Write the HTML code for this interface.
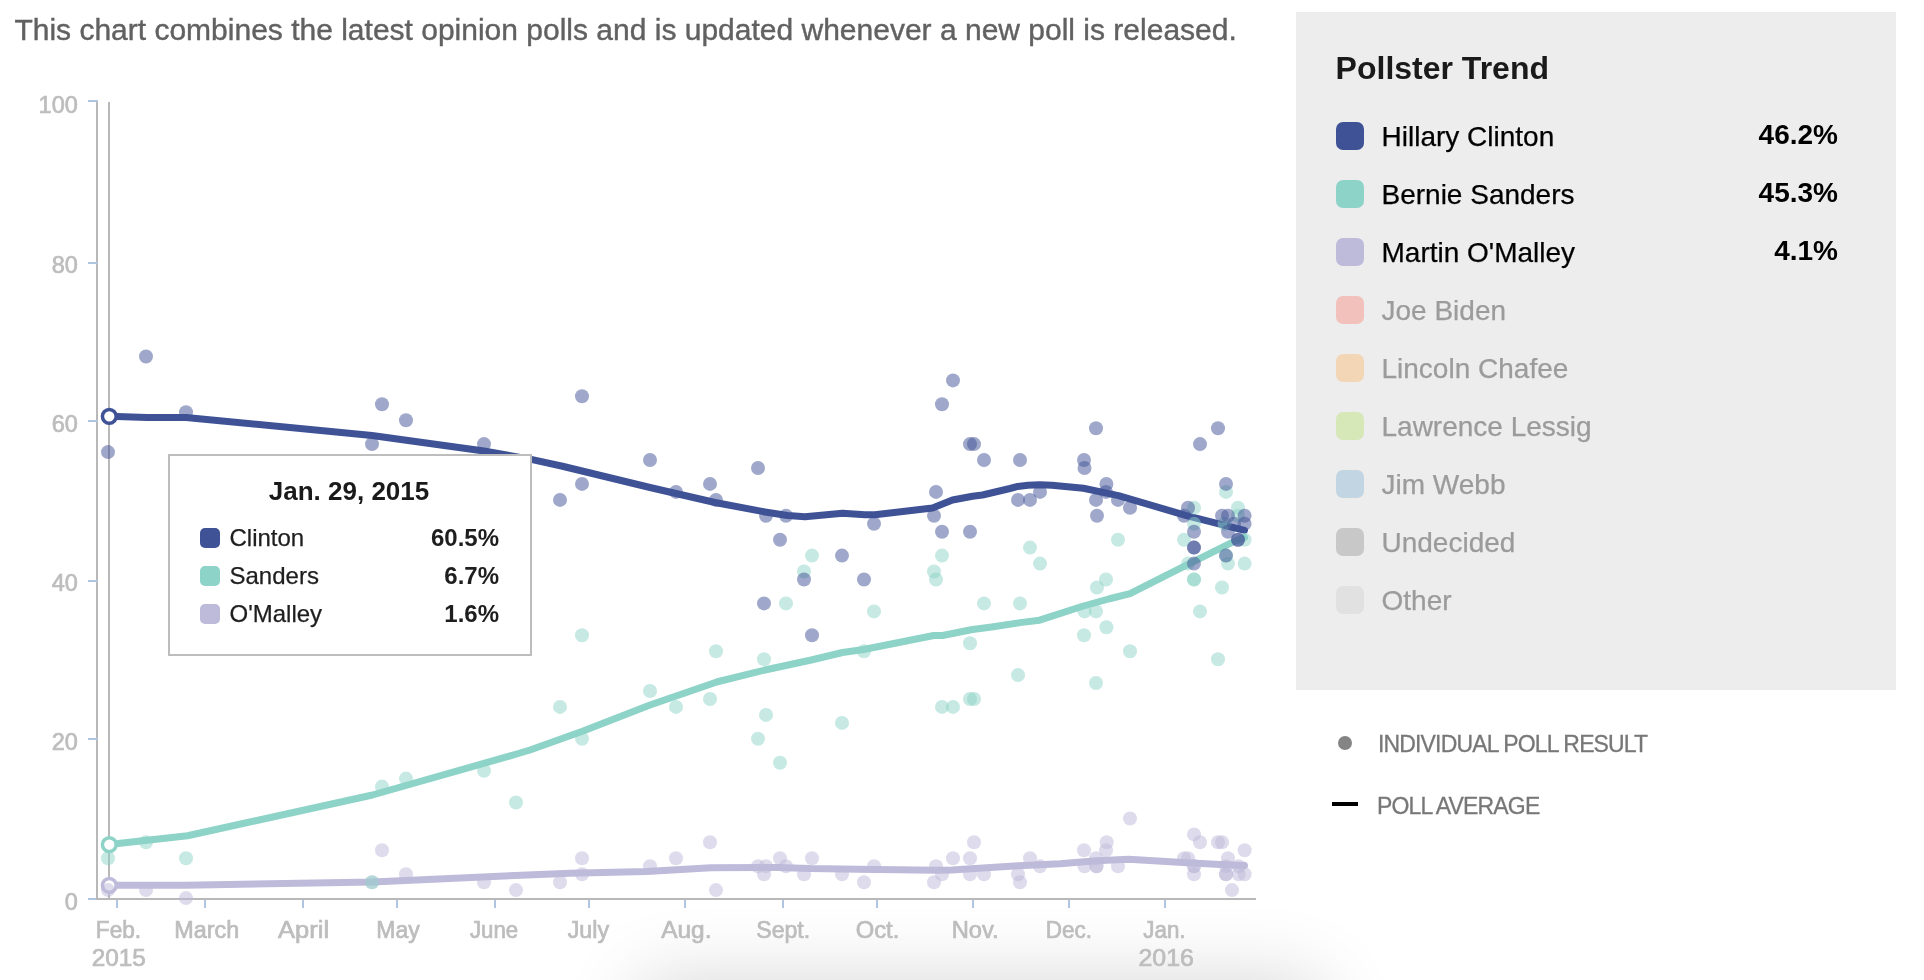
<!DOCTYPE html>
<html><head><meta charset="utf-8"><title>Pollster Trend</title>
<style>
html,body{margin:0;padding:0;background:#fff;}
body{width:1924px;height:980px;position:relative;overflow:hidden;font-family:"Liberation Sans",sans-serif;}
.ax{font-family:"Liberation Sans",sans-serif;font-size:23.5px;fill:#bdbdbd;stroke:#bdbdbd;stroke-width:0.7px;}
#hdr{position:absolute;left:14.4px;top:11.7px;font-size:30px;line-height:36px;color:#616161;-webkit-text-stroke:0.4px #616161;white-space:nowrap;}
#panel{position:absolute;left:1296px;top:12px;width:600px;height:678px;background:#ededed;}
#ptitle{position:absolute;left:1335.6px;top:49.4px;font-size:32px;line-height:38px;font-weight:bold;color:#1a1a1a;white-space:nowrap;}
.lr{position:absolute;left:1336px;width:502px;height:28px;color:#000;font-size:28px;line-height:28px;white-space:nowrap;}
.lr .sw{position:absolute;left:0;top:0;width:28px;height:28px;border-radius:7px;}
.lr .nm{position:absolute;left:45.5px;top:1px;-webkit-text-stroke:0.25px currentColor;}
.lr .vl{position:absolute;right:0;top:-1px;font-weight:bold;}
.lr.off .sw{opacity:0.4;}
.lr.off .nm{color:#9b9b9b;}
#tip{position:absolute;left:168px;top:454px;width:360px;height:198px;border:2px solid #bdbdbd;background:#fff;}
#ttitle{position:absolute;left:167px;width:364px;top:474.8px;text-align:center;font-size:26px;line-height:32px;font-weight:bold;color:#1a1a1a;white-space:nowrap;}
.tr{position:absolute;left:200px;width:299px;height:20px;font-size:24px;line-height:20px;color:#1e1e1e;white-space:nowrap;}
.tr .tsw{position:absolute;left:0;top:0.5px;width:20px;height:20px;border-radius:5px;}
.tr .tn{position:absolute;left:29.5px;top:0;-webkit-text-stroke:0.25px currentColor;}
.tr .tv{position:absolute;right:0;top:0;font-weight:bold;}
.kl{position:absolute;left:1378px;font-size:23px;line-height:26px;color:#777;letter-spacing:-0.85px;-webkit-text-stroke:0.3px #777;white-space:nowrap;}
#kdot{position:absolute;left:1338px;top:735.7px;width:14px;height:14px;border-radius:7px;background:#848484;}
#kline{position:absolute;left:1332px;top:802px;width:26px;height:4px;background:#000;}
#wrap{position:absolute;left:0;top:0;width:1924px;height:980px;will-change:transform;}
</style></head><body><div id="wrap">
<svg width="1924" height="980" viewBox="0 0 1924 980" style="position:absolute;left:0;top:0"><defs><filter id="bl" x="-20%" y="-100%" width="140%" height="300%"><feGaussianBlur stdDeviation="40"/></filter></defs><rect x="640" y="982" width="680" height="200" fill="#000" opacity="0.17" filter="url(#bl)"/><rect x="88" y="898" width="10" height="2" fill="#b0c6e0"/><text x="77.8" y="909.6" text-anchor="end" class="ax">0</text><text x="77.8" y="750.4" text-anchor="end" class="ax">20</text><text x="77.8" y="591.1" text-anchor="end" class="ax">40</text><text x="77.8" y="431.9" text-anchor="end" class="ax">60</text><text x="77.8" y="272.6" text-anchor="end" class="ax">80</text><text x="77.8" y="113.4" text-anchor="end" class="ax">100</text><rect x="116" y="900" width="2" height="8" fill="#b0c6e0"/><text x="118.5" y="938" text-anchor="middle" textLength="45.3" lengthAdjust="spacingAndGlyphs" class="ax">Feb.</text><text x="118.7" y="966" text-anchor="middle" textLength="54.1" lengthAdjust="spacingAndGlyphs" class="ax">2015</text><rect x="204" y="900" width="2" height="8" fill="#b0c6e0"/><text x="206.7" y="938" text-anchor="middle" textLength="64.9" lengthAdjust="spacingAndGlyphs" class="ax">March</text><rect x="302" y="900" width="2" height="8" fill="#b0c6e0"/><text x="303.6" y="938" text-anchor="middle" textLength="51.0" lengthAdjust="spacingAndGlyphs" class="ax">April</text><rect x="396" y="900" width="2" height="8" fill="#b0c6e0"/><text x="398.0" y="938" text-anchor="middle" textLength="43.5" lengthAdjust="spacingAndGlyphs" class="ax">May</text><rect x="494" y="900" width="2" height="8" fill="#b0c6e0"/><text x="494.1" y="938" text-anchor="middle" textLength="48.3" lengthAdjust="spacingAndGlyphs" class="ax">June</text><rect x="588" y="900" width="2" height="8" fill="#b0c6e0"/><text x="588.4" y="938" text-anchor="middle" textLength="41.5" lengthAdjust="spacingAndGlyphs" class="ax">July</text><rect x="684" y="900" width="2" height="8" fill="#b0c6e0"/><text x="686.3" y="938" text-anchor="middle" textLength="50.3" lengthAdjust="spacingAndGlyphs" class="ax">Aug.</text><rect x="782" y="900" width="2" height="8" fill="#b0c6e0"/><text x="783.2" y="938" text-anchor="middle" textLength="53.9" lengthAdjust="spacingAndGlyphs" class="ax">Sept.</text><rect x="876" y="900" width="2" height="8" fill="#b0c6e0"/><text x="877.5" y="938" text-anchor="middle" textLength="43.6" lengthAdjust="spacingAndGlyphs" class="ax">Oct.</text><rect x="972" y="900" width="2" height="8" fill="#b0c6e0"/><text x="975.2" y="938" text-anchor="middle" textLength="47.0" lengthAdjust="spacingAndGlyphs" class="ax">Nov.</text><rect x="1068" y="900" width="2" height="8" fill="#b0c6e0"/><text x="1068.8" y="938" text-anchor="middle" textLength="46.3" lengthAdjust="spacingAndGlyphs" class="ax">Dec.</text><rect x="1164" y="900" width="2" height="8" fill="#b0c6e0"/><text x="1164.4" y="938" text-anchor="middle" textLength="42.3" lengthAdjust="spacingAndGlyphs" class="ax">Jan.</text><text x="1166.2" y="966" text-anchor="middle" textLength="55.4" lengthAdjust="spacingAndGlyphs" class="ax">2016</text><rect x="96" y="100" width="2" height="800" fill="#b8b8b8"/><rect x="96" y="898" width="1160" height="2" fill="#b8b8b8"/><rect x="88" y="738" width="10" height="2" fill="#b0c6e0"/><rect x="88" y="580" width="10" height="2" fill="#b0c6e0"/><rect x="88" y="420" width="10" height="2" fill="#b0c6e0"/><rect x="88" y="262" width="10" height="2" fill="#b0c6e0"/><rect x="88" y="100" width="10" height="2" fill="#b0c6e0"/><rect x="108" y="102" width="2" height="797" fill="#b8b8b8"/><path d="M109.25 885.3 L185 885.3 L372.5 882 L515 875.5 L570 873.25 L646.7 871.5 L711 867.8 L778 867.4 L810 868.6 L858.4 869.3 L935.7 870.3 L951.7 870 L1018.8 865.7 L1060 863.7 L1096.5 860.8 L1128.6 859.3 L1191.3 863 L1220.5 864.4 L1244.5 865.6" fill="none" stroke="#bebada" stroke-width="7" stroke-linejoin="round" stroke-linecap="round"/><path d="M109.25 844.6 L187.5 835.75 L372.5 795 L515 754.5 L530 750 L582.5 731.25 L650 705 L717.5 681.75 L765 670 L811.25 660 L842.5 652.5 L863.75 649.5 L933.75 635.5 L942.5 635.5 L972.5 629.5 L990 627.2 L1022 622.4 L1039.6 620.2 L1083.4 606 L1109.6 598.75 L1130 593.6 L1185.5 565.7 L1232.2 542.3 L1244.5 537.4" fill="none" stroke="#8dd3c7" stroke-width="7" stroke-linejoin="round" stroke-linecap="round"/><path d="M109.25 416.2 L147 417.5 L186 417.5 L372 435.5 L484 451 L530 459.2 L562.5 466.25 L650 487.5 L715 502.5 L765 512 L787.5 515.5 L805 516.75 L842.5 513.25 L865 514.75 L875 514.75 L932.5 508 L952.5 500 L972.5 496.25 L982.5 495 L1010 488.5 L1017.7 486.4 L1028 485.2 L1039.6 484.7 L1052 485.2 L1083.4 488.3 L1118.4 495.6 L1185.5 515.3 L1244.5 530.3" fill="none" stroke="#3f5296" stroke-width="7" stroke-linejoin="round" stroke-linecap="round"/><circle cx="109.3" cy="885.3" r="6.9" fill="#fff" stroke="#bebada" stroke-width="3.5"/><circle cx="109.3" cy="844.6" r="6.9" fill="#fff" stroke="#8dd3c7" stroke-width="3.5"/><circle cx="109.3" cy="416.3" r="6.9" fill="#fff" stroke="#3f5296" stroke-width="3.5"/><g fill-opacity="0.5"><circle cx="108" cy="890.1" r="7" fill="#bebada"/><circle cx="146" cy="890.1" r="7" fill="#bebada"/><circle cx="186" cy="898.1" r="7" fill="#bebada"/><circle cx="372" cy="882.2" r="7" fill="#bebada"/><circle cx="382" cy="850.3" r="7" fill="#bebada"/><circle cx="406" cy="874.2" r="7" fill="#bebada"/><circle cx="484" cy="882.2" r="7" fill="#bebada"/><circle cx="516" cy="890.1" r="7" fill="#bebada"/><circle cx="560" cy="882.2" r="7" fill="#bebada"/><circle cx="582" cy="858.3" r="7" fill="#bebada"/><circle cx="582" cy="874.2" r="7" fill="#bebada"/><circle cx="650" cy="866.2" r="7" fill="#bebada"/><circle cx="676" cy="858.3" r="7" fill="#bebada"/><circle cx="710" cy="842.3" r="7" fill="#bebada"/><circle cx="716" cy="890.1" r="7" fill="#bebada"/><circle cx="758" cy="866.2" r="7" fill="#bebada"/><circle cx="766" cy="866.2" r="7" fill="#bebada"/><circle cx="764" cy="874.2" r="7" fill="#bebada"/><circle cx="780" cy="858.3" r="7" fill="#bebada"/><circle cx="786" cy="866.2" r="7" fill="#bebada"/><circle cx="804" cy="874.2" r="7" fill="#bebada"/><circle cx="812" cy="858.3" r="7" fill="#bebada"/><circle cx="842" cy="874.2" r="7" fill="#bebada"/><circle cx="864" cy="882.2" r="7" fill="#bebada"/><circle cx="874" cy="866.2" r="7" fill="#bebada"/><circle cx="936" cy="866.2" r="7" fill="#bebada"/><circle cx="934" cy="882.2" r="7" fill="#bebada"/><circle cx="942" cy="874.2" r="7" fill="#bebada"/><circle cx="953" cy="858.3" r="7" fill="#bebada"/><circle cx="970" cy="858.3" r="7" fill="#bebada"/><circle cx="974" cy="842.3" r="7" fill="#bebada"/><circle cx="970" cy="874.2" r="7" fill="#bebada"/><circle cx="984" cy="874.2" r="7" fill="#bebada"/><circle cx="1018" cy="874.2" r="7" fill="#bebada"/><circle cx="1020" cy="882.2" r="7" fill="#bebada"/><circle cx="1030" cy="858.3" r="7" fill="#bebada"/><circle cx="1040" cy="866.2" r="7" fill="#bebada"/><circle cx="1084" cy="850.3" r="7" fill="#bebada"/><circle cx="1084.5" cy="866.2" r="7" fill="#bebada"/><circle cx="1106.7" cy="842.3" r="7" fill="#bebada"/><circle cx="1106" cy="850.3" r="7" fill="#bebada"/><circle cx="1096" cy="858.3" r="7" fill="#bebada"/><circle cx="1096.5" cy="866.2" r="7" fill="#bebada"/><circle cx="1096.5" cy="866.2" r="7" fill="#bebada"/><circle cx="1118" cy="866.2" r="7" fill="#bebada"/><circle cx="1130" cy="818.5" r="7" fill="#bebada"/><circle cx="1194" cy="834.4" r="7" fill="#bebada"/><circle cx="1200" cy="842.3" r="7" fill="#bebada"/><circle cx="1218" cy="842.3" r="7" fill="#bebada"/><circle cx="1222" cy="842.3" r="7" fill="#bebada"/><circle cx="1244.6" cy="850.3" r="7" fill="#bebada"/><circle cx="1184" cy="858.3" r="7" fill="#bebada"/><circle cx="1188" cy="858.3" r="7" fill="#bebada"/><circle cx="1228" cy="858.3" r="7" fill="#bebada"/><circle cx="1194" cy="866.2" r="7" fill="#bebada"/><circle cx="1194" cy="866.2" r="7" fill="#bebada"/><circle cx="1194" cy="874.2" r="7" fill="#bebada"/><circle cx="1226" cy="866.2" r="7" fill="#bebada"/><circle cx="1238.7" cy="866.2" r="7" fill="#bebada"/><circle cx="1226" cy="874.2" r="7" fill="#bebada"/><circle cx="1226" cy="874.2" r="7" fill="#bebada"/><circle cx="1238.7" cy="874.2" r="7" fill="#bebada"/><circle cx="1244.6" cy="874.2" r="7" fill="#bebada"/><circle cx="1232" cy="890.1" r="7" fill="#bebada"/></g><g fill-opacity="0.5"><circle cx="108" cy="858.3" r="7" fill="#8dd3c7"/><circle cx="146" cy="842.3" r="7" fill="#8dd3c7"/><circle cx="186" cy="858.3" r="7" fill="#8dd3c7"/><circle cx="372" cy="882.2" r="7" fill="#8dd3c7"/><circle cx="382" cy="786.6" r="7" fill="#8dd3c7"/><circle cx="406" cy="778.6" r="7" fill="#8dd3c7"/><circle cx="484" cy="770.7" r="7" fill="#8dd3c7"/><circle cx="516" cy="802.5" r="7" fill="#8dd3c7"/><circle cx="560" cy="706.9" r="7" fill="#8dd3c7"/><circle cx="582" cy="635.3" r="7" fill="#8dd3c7"/><circle cx="582" cy="738.8" r="7" fill="#8dd3c7"/><circle cx="650" cy="691.0" r="7" fill="#8dd3c7"/><circle cx="676" cy="706.9" r="7" fill="#8dd3c7"/><circle cx="710" cy="699.0" r="7" fill="#8dd3c7"/><circle cx="716" cy="651.2" r="7" fill="#8dd3c7"/><circle cx="758" cy="738.8" r="7" fill="#8dd3c7"/><circle cx="764" cy="659.2" r="7" fill="#8dd3c7"/><circle cx="766" cy="714.9" r="7" fill="#8dd3c7"/><circle cx="780" cy="762.7" r="7" fill="#8dd3c7"/><circle cx="786" cy="603.4" r="7" fill="#8dd3c7"/><circle cx="804" cy="571.5" r="7" fill="#8dd3c7"/><circle cx="812" cy="555.6" r="7" fill="#8dd3c7"/><circle cx="842" cy="722.9" r="7" fill="#8dd3c7"/><circle cx="864" cy="651.2" r="7" fill="#8dd3c7"/><circle cx="874" cy="611.4" r="7" fill="#8dd3c7"/><circle cx="934" cy="571.5" r="7" fill="#8dd3c7"/><circle cx="936" cy="579.5" r="7" fill="#8dd3c7"/><circle cx="942" cy="555.6" r="7" fill="#8dd3c7"/><circle cx="942" cy="706.9" r="7" fill="#8dd3c7"/><circle cx="953" cy="706.9" r="7" fill="#8dd3c7"/><circle cx="970" cy="643.2" r="7" fill="#8dd3c7"/><circle cx="970" cy="699.0" r="7" fill="#8dd3c7"/><circle cx="974" cy="699.0" r="7" fill="#8dd3c7"/><circle cx="984" cy="603.4" r="7" fill="#8dd3c7"/><circle cx="1020" cy="603.4" r="7" fill="#8dd3c7"/><circle cx="1018" cy="675.1" r="7" fill="#8dd3c7"/><circle cx="1030" cy="547.6" r="7" fill="#8dd3c7"/><circle cx="1040" cy="563.6" r="7" fill="#8dd3c7"/><circle cx="1084.5" cy="611.4" r="7" fill="#8dd3c7"/><circle cx="1084" cy="635.3" r="7" fill="#8dd3c7"/><circle cx="1096" cy="611.4" r="7" fill="#8dd3c7"/><circle cx="1096" cy="683.0" r="7" fill="#8dd3c7"/><circle cx="1097" cy="587.5" r="7" fill="#8dd3c7"/><circle cx="1106" cy="579.5" r="7" fill="#8dd3c7"/><circle cx="1106.4" cy="627.3" r="7" fill="#8dd3c7"/><circle cx="1118" cy="539.7" r="7" fill="#8dd3c7"/><circle cx="1130" cy="651.2" r="7" fill="#8dd3c7"/><circle cx="1184" cy="539.7" r="7" fill="#8dd3c7"/><circle cx="1188" cy="563.6" r="7" fill="#8dd3c7"/><circle cx="1194" cy="507.8" r="7" fill="#8dd3c7"/><circle cx="1194" cy="523.7" r="7" fill="#8dd3c7"/><circle cx="1194" cy="579.5" r="7" fill="#8dd3c7"/><circle cx="1194" cy="579.5" r="7" fill="#8dd3c7"/><circle cx="1200" cy="611.4" r="7" fill="#8dd3c7"/><circle cx="1218" cy="659.2" r="7" fill="#8dd3c7"/><circle cx="1222" cy="587.5" r="7" fill="#8dd3c7"/><circle cx="1226" cy="491.9" r="7" fill="#8dd3c7"/><circle cx="1238" cy="507.8" r="7" fill="#8dd3c7"/><circle cx="1238" cy="515.8" r="7" fill="#8dd3c7"/><circle cx="1244.6" cy="539.7" r="7" fill="#8dd3c7"/><circle cx="1228" cy="563.6" r="7" fill="#8dd3c7"/><circle cx="1244.6" cy="563.6" r="7" fill="#8dd3c7"/><circle cx="1226" cy="555.6" r="7" fill="#8dd3c7"/><circle cx="1224.5" cy="523.7" r="7" fill="#8dd3c7"/></g><g fill-opacity="0.5"><circle cx="108" cy="452.1" r="7" fill="#3f5296"/><circle cx="146" cy="356.5" r="7" fill="#3f5296"/><circle cx="186" cy="412.2" r="7" fill="#3f5296"/><circle cx="372" cy="444.1" r="7" fill="#3f5296"/><circle cx="382" cy="404.3" r="7" fill="#3f5296"/><circle cx="406" cy="420.2" r="7" fill="#3f5296"/><circle cx="484" cy="444.1" r="7" fill="#3f5296"/><circle cx="560" cy="499.9" r="7" fill="#3f5296"/><circle cx="582" cy="396.3" r="7" fill="#3f5296"/><circle cx="582" cy="483.9" r="7" fill="#3f5296"/><circle cx="650" cy="460.0" r="7" fill="#3f5296"/><circle cx="676" cy="491.9" r="7" fill="#3f5296"/><circle cx="710" cy="483.9" r="7" fill="#3f5296"/><circle cx="716" cy="499.9" r="7" fill="#3f5296"/><circle cx="758" cy="468.0" r="7" fill="#3f5296"/><circle cx="766" cy="515.8" r="7" fill="#3f5296"/><circle cx="786" cy="515.8" r="7" fill="#3f5296"/><circle cx="780" cy="539.7" r="7" fill="#3f5296"/><circle cx="842" cy="555.6" r="7" fill="#3f5296"/><circle cx="804" cy="579.5" r="7" fill="#3f5296"/><circle cx="864" cy="579.5" r="7" fill="#3f5296"/><circle cx="874" cy="523.7" r="7" fill="#3f5296"/><circle cx="764" cy="603.4" r="7" fill="#3f5296"/><circle cx="812" cy="635.3" r="7" fill="#3f5296"/><circle cx="953" cy="380.4" r="7" fill="#3f5296"/><circle cx="942" cy="404.3" r="7" fill="#3f5296"/><circle cx="970" cy="444.1" r="7" fill="#3f5296"/><circle cx="974" cy="444.1" r="7" fill="#3f5296"/><circle cx="984" cy="460.0" r="7" fill="#3f5296"/><circle cx="936" cy="491.9" r="7" fill="#3f5296"/><circle cx="934" cy="515.8" r="7" fill="#3f5296"/><circle cx="942" cy="531.7" r="7" fill="#3f5296"/><circle cx="970" cy="531.7" r="7" fill="#3f5296"/><circle cx="1020" cy="460.0" r="7" fill="#3f5296"/><circle cx="1084" cy="460.0" r="7" fill="#3f5296"/><circle cx="1084.5" cy="468.0" r="7" fill="#3f5296"/><circle cx="1096" cy="428.2" r="7" fill="#3f5296"/><circle cx="1106.4" cy="483.9" r="7" fill="#3f5296"/><circle cx="1106" cy="491.9" r="7" fill="#3f5296"/><circle cx="1040" cy="491.9" r="7" fill="#3f5296"/><circle cx="1018" cy="499.9" r="7" fill="#3f5296"/><circle cx="1030" cy="499.9" r="7" fill="#3f5296"/><circle cx="1096" cy="499.9" r="7" fill="#3f5296"/><circle cx="1118" cy="499.9" r="7" fill="#3f5296"/><circle cx="1130" cy="507.8" r="7" fill="#3f5296"/><circle cx="1097" cy="515.8" r="7" fill="#3f5296"/><circle cx="1218" cy="428.2" r="7" fill="#3f5296"/><circle cx="1200" cy="444.1" r="7" fill="#3f5296"/><circle cx="1226" cy="483.9" r="7" fill="#3f5296"/><circle cx="1188" cy="507.8" r="7" fill="#3f5296"/><circle cx="1184" cy="515.8" r="7" fill="#3f5296"/><circle cx="1194" cy="531.7" r="7" fill="#3f5296"/><circle cx="1194" cy="547.6" r="7" fill="#3f5296"/><circle cx="1194" cy="547.6" r="7" fill="#3f5296"/><circle cx="1194" cy="563.6" r="7" fill="#3f5296"/><circle cx="1222" cy="515.8" r="7" fill="#3f5296"/><circle cx="1228" cy="515.8" r="7" fill="#3f5296"/><circle cx="1244.6" cy="515.8" r="7" fill="#3f5296"/><circle cx="1234" cy="523.7" r="7" fill="#3f5296"/><circle cx="1244.6" cy="523.7" r="7" fill="#3f5296"/><circle cx="1228" cy="531.7" r="7" fill="#3f5296"/><circle cx="1238" cy="539.7" r="7" fill="#3f5296"/><circle cx="1238" cy="539.7" r="7" fill="#3f5296"/><circle cx="1226" cy="555.6" r="7" fill="#3f5296"/></g></svg>
<div id="hdr">This chart combines the latest opinion polls and is updated whenever a new poll is released.</div>
<div id="panel"></div>
<div id="ptitle">Pollster Trend</div>
<div class="lr" style="top:122px"><span class="sw" style="background:#3f5296"></span><span class="nm">Hillary Clinton</span><span class="vl">46.2%</span></div><div class="lr" style="top:180px"><span class="sw" style="background:#8dd3c7"></span><span class="nm">Bernie Sanders</span><span class="vl">45.3%</span></div><div class="lr" style="top:238px"><span class="sw" style="background:#bebada"></span><span class="nm">Martin O'Malley</span><span class="vl">4.1%</span></div><div class="lr off" style="top:296px"><span class="sw" style="background:#fb8072"></span><span class="nm">Joe Biden</span><span class="vl"></span></div><div class="lr off" style="top:354px"><span class="sw" style="background:#fdb462"></span><span class="nm">Lincoln Chafee</span><span class="vl"></span></div><div class="lr off" style="top:412px"><span class="sw" style="background:#b3de69"></span><span class="nm">Lawrence Lessig</span><span class="vl"></span></div><div class="lr off" style="top:470px"><span class="sw" style="background:#80b1d3"></span><span class="nm">Jim Webb</span><span class="vl"></span></div><div class="lr off" style="top:528px"><span class="sw" style="background:#909090"></span><span class="nm">Undecided</span><span class="vl"></span></div><div class="lr off" style="top:586px"><span class="sw" style="background:#cfcfcf"></span><span class="nm">Other</span><span class="vl"></span></div>
<div id="tip"></div>
<div id="ttitle">Jan. 29, 2015</div>
<div class="tr" style="top:527.5px"><span class="tsw" style="background:#3f5296"></span><span class="tn">Clinton</span><span class="tv">60.5%</span></div><div class="tr" style="top:565.5px"><span class="tsw" style="background:#8dd3c7"></span><span class="tn">Sanders</span><span class="tv">6.7%</span></div><div class="tr" style="top:603.5px"><span class="tsw" style="background:#bebada"></span><span class="tn">O'Malley</span><span class="tv">1.6%</span></div>
<div id="kdot"></div><div class="kl" id="k1" style="top:731.2px">INDIVIDUAL POLL RESULT</div>
<div id="kline"></div><div class="kl" id="k2" style="top:793.2px;left:1377px">POLL AVERAGE</div>
</div></body></html>
